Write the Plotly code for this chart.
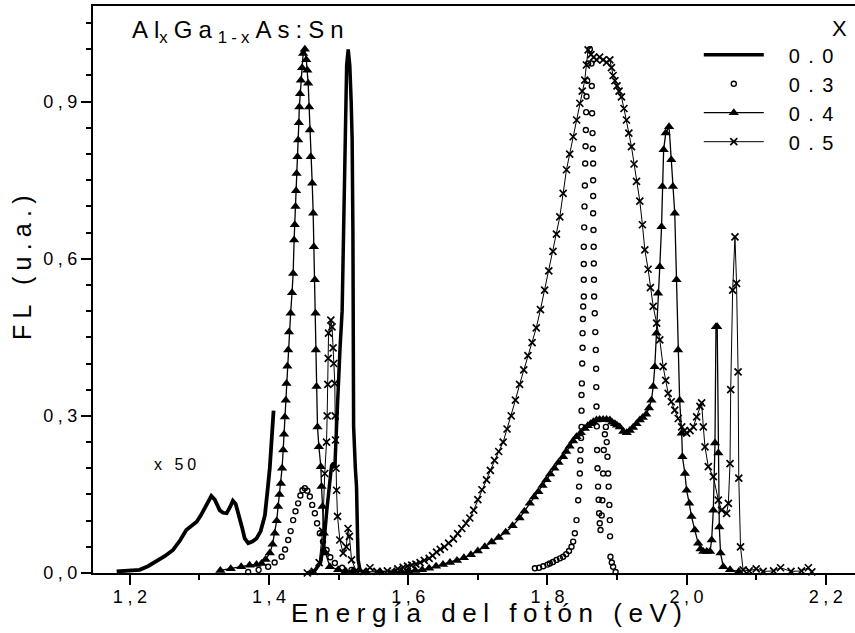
import plotly.graph_objects as go

# ---------------- data ----------------
# x = 0.0 : main near-band-edge peak
e_00 = [1.455, 1.466, 1.474, 1.479, 1.483, 1.487, 1.4898, 1.4925, 1.4945, 1.497, 1.499, 1.502,
        1.505, 1.5075, 1.5095, 1.5115, 1.5137, 1.516, 1.518, 1.5194, 1.5205, 1.521, 1.5215,
        1.524, 1.5257, 1.527, 1.528, 1.531]
fl_00 = [0.0, 0.005, 0.02, 0.06, 0.12, 0.17, 0.205, 0.21, 0.2, 0.28, 0.36, 0.43,
         0.5, 0.7, 0.85, 0.97, 1.0, 0.97, 0.9, 0.827, 0.65, 0.5, 0.28,
         0.2, 0.165, 0.08, 0.025, 0.003]

# x = 0.0 : low-energy band, magnified x 50
e_00_x50 = [1.181, 1.2, 1.214, 1.226, 1.238, 1.25, 1.262, 1.272, 1.281, 1.289, 1.296, 1.302, 1.308,
            1.313, 1.317, 1.322, 1.326, 1.329, 1.334, 1.339, 1.344, 1.348, 1.352, 1.356, 1.361,
            1.365, 1.37, 1.376, 1.382, 1.388, 1.394, 1.398, 1.401, 1.404, 1.4065]
fl_00_x50 = [0.003, 0.004, 0.006, 0.013, 0.022, 0.032, 0.044, 0.062, 0.082, 0.09, 0.098, 0.11, 0.124,
             0.137, 0.147, 0.14, 0.128, 0.12, 0.115, 0.114, 0.126, 0.138, 0.132, 0.114, 0.088,
             0.066, 0.057, 0.06, 0.066, 0.08, 0.11, 0.16, 0.2, 0.26, 0.31]

# x = 0.3 (open circles)
e_03 = [1.370, 1.385, 1.3987, 1.408, 1.418, 1.423, 1.4275, 1.431, 1.4346, 1.438, 1.4418, 1.445,
        1.448, 1.4514, 1.455, 1.4586, 1.462, 1.4658, 1.469, 1.473, 1.4775, 1.4826, 1.488,
        1.4945, 1.505, 1.5185,
        1.782, 1.788, 1.794, 1.8, 1.8034, 1.808, 1.813, 1.818, 1.8226, 1.827, 1.831, 1.8346,
        1.837, 1.8394, 1.8418, 1.8442, 1.8455, 1.8466, 1.8472, 1.8476, 1.8483, 1.849, 1.849,
        1.849, 1.8495, 1.85, 1.8505, 1.8505, 1.851, 1.8514, 1.8523, 1.8523, 1.8523, 1.8523,
        1.8528, 1.8533, 1.8538, 1.8543, 1.8548, 1.8552, 1.8557, 1.8562, 1.8572, 1.8585, 1.861,
        1.8633, 1.8638, 1.8642, 1.8648, 1.8652, 1.8657, 1.8657, 1.8657, 1.8657, 1.8662, 1.8665,
        1.8667, 1.8669, 1.8671, 1.868, 1.8688, 1.8695, 1.87, 1.8702, 1.8705, 1.871, 1.8714,
        1.872, 1.8728, 1.8736, 1.8743, 1.8752, 1.8763, 1.878, 1.879, 1.88, 1.881, 1.8825,
        1.884, 1.8852, 1.8863, 1.8872, 1.888, 1.889, 1.8897, 1.89, 1.8906, 1.8925, 1.8944, 1.898]
fl_03 = [0.002, 0.006, 0.012, 0.02, 0.031, 0.045, 0.063, 0.08, 0.101, 0.118, 0.133, 0.148,
         0.158, 0.162, 0.157, 0.146, 0.13, 0.114, 0.095, 0.076, 0.06, 0.044, 0.03,
         0.019, 0.01, 0.006,
         0.009, 0.01, 0.013, 0.016, 0.018, 0.021, 0.025, 0.028, 0.031, 0.036, 0.042, 0.05,
         0.06, 0.076, 0.101, 0.139, 0.165, 0.19, 0.215, 0.235, 0.258, 0.279, 0.31,
         0.34, 0.362, 0.4, 0.43, 0.458, 0.485, 0.509, 0.528, 0.56, 0.59, 0.623,
         0.66, 0.7, 0.74, 0.782, 0.815, 0.846, 0.88, 0.91, 0.94, 0.973, 1.0,
         0.973, 0.93, 0.878, 0.84, 0.81, 0.782, 0.75, 0.72, 0.687, 0.655, 0.623,
         0.591, 0.56, 0.528, 0.496, 0.46, 0.426, 0.39, 0.355, 0.318, 0.28, 0.235,
         0.2, 0.165, 0.14, 0.114, 0.095, 0.082, 0.11, 0.139, 0.19, 0.235, 0.265,
         0.279, 0.25, 0.222, 0.19, 0.165, 0.13, 0.101, 0.07, 0.031, 0.02, 0.012, 0.002]

# x = 0.4 (filled triangles)
e_04 = [1.33, 1.345, 1.36, 1.372, 1.382, 1.3892, 1.395, 1.4011, 1.405, 1.4083, 1.411, 1.413,
        1.415, 1.417, 1.4187, 1.4203, 1.4215, 1.4227, 1.424, 1.425, 1.4263, 1.4275, 1.4287,
        1.431, 1.433, 1.4346, 1.436, 1.437, 1.438, 1.4388, 1.4395, 1.4408, 1.4418, 1.4428,
        1.4435, 1.4445, 1.4457, 1.4475, 1.449, 1.4514, 1.4535, 1.455, 1.4562, 1.4576, 1.4586,
        1.46, 1.462, 1.4634, 1.4644, 1.4658, 1.4668, 1.4672, 1.4682, 1.4696, 1.4716, 1.4744,
        1.4754, 1.4768, 1.4787, 1.4812, 1.4874, 1.4993, 1.51, 1.52, 1.54, 1.56,
        1.58, 1.59, 1.6, 1.61, 1.62, 1.63, 1.64, 1.65, 1.66, 1.67, 1.68, 1.69, 1.70, 1.71,
        1.72, 1.73, 1.74, 1.75, 1.76, 1.767, 1.7747, 1.781, 1.787, 1.793, 1.7986, 1.804,
        1.81, 1.816, 1.8226, 1.827, 1.832, 1.837, 1.8418, 1.848, 1.8537, 1.858, 1.862, 1.866,
        1.8705, 1.875, 1.88, 1.885, 1.8897, 1.893, 1.897, 1.9, 1.904, 1.909, 1.914, 1.9184,
        1.923, 1.928, 1.9328, 1.937, 1.942, 1.946, 1.9495, 1.952, 1.9543, 1.9567, 1.959,
        1.9615, 1.964, 1.9652, 1.967, 1.97, 1.9748, 1.978, 1.9803, 1.983, 1.9855, 1.9878,
        1.99, 1.993, 1.994, 1.9976, 2.0, 2.0038, 2.007, 2.0118, 2.0166, 2.02, 2.024, 2.029,
        2.0336, 2.036, 2.0384, 2.0408, 2.0422, 2.044, 2.0456, 2.047, 2.0488, 2.0527, 2.0624,
        2.075]
fl_04 = [0.005, 0.008, 0.012, 0.015, 0.016, 0.018, 0.026, 0.038, 0.055, 0.076, 0.1, 0.127,
         0.15, 0.171, 0.2, 0.235, 0.265, 0.298, 0.33, 0.362, 0.395, 0.426, 0.46,
         0.496, 0.535, 0.572, 0.636, 0.665, 0.7, 0.73, 0.763, 0.795, 0.827, 0.86,
         0.89, 0.915, 0.941, 0.965, 0.992, 1.0, 0.98, 0.96, 0.935, 0.89, 0.846,
         0.795, 0.744, 0.687, 0.623, 0.56, 0.496, 0.426, 0.356, 0.279, 0.241, 0.203,
         0.165, 0.127, 0.076, 0.038, 0.012, 0.006, 0.004, 0.003, 0.002, 0.002,
         0.003, 0.003, 0.004, 0.005, 0.006, 0.009, 0.013, 0.016, 0.02, 0.024, 0.029, 0.035, 0.042, 0.05,
         0.059, 0.068, 0.078, 0.09, 0.105, 0.118, 0.133, 0.145, 0.155, 0.167, 0.178, 0.189,
         0.2, 0.211, 0.222, 0.232, 0.242, 0.252, 0.26, 0.268, 0.276, 0.281, 0.285, 0.289,
         0.292, 0.293, 0.293, 0.293, 0.292, 0.288, 0.285, 0.282, 0.279, 0.27, 0.268, 0.272,
         0.278, 0.285, 0.292, 0.297, 0.303, 0.315, 0.33, 0.356, 0.394, 0.458, 0.534,
         0.585, 0.661, 0.738, 0.808, 0.84, 0.852, 0.789, 0.738, 0.687, 0.56, 0.426,
         0.33, 0.267, 0.222, 0.19, 0.158, 0.133, 0.108, 0.082, 0.057, 0.046, 0.041, 0.041,
         0.041, 0.063, 0.12, 0.248, 0.47, 0.47, 0.229, 0.088, 0.038, 0.012, 0.006,
         0.003]

# x = 0.5 (crosses)
e_05 = [1.455, 1.465, 1.472, 1.477, 1.48, 1.4826, 1.4835, 1.4845, 1.485, 1.4855, 1.4888, 1.4905,
        1.492, 1.493, 1.4945, 1.495, 1.4955, 1.4962, 1.497, 1.4984, 1.5017, 1.5065, 1.511,
        1.5135, 1.5155, 1.5185, 1.525, 1.535, 1.545, 1.555, 1.57, 1.585,
        1.5927, 1.599, 1.605, 1.611, 1.617, 1.623, 1.63, 1.635, 1.6407, 1.646, 1.652, 1.658,
        1.665, 1.671, 1.677, 1.683, 1.6885, 1.694, 1.70, 1.706, 1.7125, 1.718, 1.724, 1.73,
        1.7364, 1.742, 1.748, 1.754, 1.76, 1.766, 1.772, 1.778, 1.784, 1.79, 1.796, 1.802,
        1.808, 1.813, 1.8178, 1.8226, 1.8274, 1.832, 1.837, 1.842, 1.8466, 1.85, 1.8537,
        1.856, 1.8585, 1.8625, 1.8665, 1.8706, 1.875, 1.88, 1.885, 1.8897, 1.892, 1.8944,
        1.897, 1.9, 1.903, 1.9064, 1.91, 1.9136, 1.917, 1.9208, 1.9245, 1.928, 1.9328,
        1.9365, 1.94, 1.9447, 1.948, 1.952, 1.957, 1.9615, 1.9663, 1.97, 1.9735, 1.978,
        1.983, 1.988, 1.993, 1.997, 2.0, 2.005, 2.0096, 2.0145, 2.0192, 2.0216, 2.024,
        2.0264, 2.0312, 2.0384, 2.0456, 2.0503, 2.0575, 2.06, 2.0624, 2.0634, 2.0662, 2.0695,
        2.0718, 2.074, 2.075, 2.0775, 2.0812, 2.09, 2.1, 2.11, 2.125, 2.135, 2.15, 2.165,
        2.175, 2.18]
fl_05 = [0.0, 0.003, 0.02, 0.08, 0.19, 0.25, 0.3, 0.36, 0.41, 0.458, 0.483, 0.47,
         0.43, 0.4, 0.362, 0.3, 0.254, 0.2, 0.158, 0.108, 0.063, 0.038, 0.05,
         0.085, 0.07, 0.025, 0.005, 0.003, 0.01, 0.003, 0.004, 0.008,
         0.011, 0.013, 0.015, 0.017, 0.02, 0.024, 0.028, 0.033, 0.04, 0.045, 0.05, 0.057,
         0.065, 0.075, 0.085, 0.095, 0.105, 0.12, 0.14, 0.159, 0.178, 0.196, 0.215, 0.232,
         0.25, 0.275, 0.3, 0.33, 0.36, 0.388, 0.415, 0.44, 0.468, 0.503, 0.54, 0.577,
         0.614, 0.647, 0.68, 0.725, 0.77, 0.8, 0.833, 0.865, 0.897, 0.92, 0.941,
         0.97, 0.999, 0.99, 0.985, 0.98, 0.985, 0.98, 0.975, 0.98, 0.965, 0.95,
         0.94, 0.93, 0.92, 0.909, 0.887, 0.865, 0.84, 0.814, 0.781, 0.748, 0.71,
         0.665, 0.617, 0.58, 0.545, 0.509, 0.477, 0.445, 0.394, 0.368, 0.343, 0.327,
         0.311, 0.295, 0.279, 0.272, 0.267, 0.272, 0.279, 0.298, 0.318, 0.325, 0.279,
         0.241, 0.203, 0.184, 0.139, 0.12, 0.114, 0.133, 0.209, 0.35, 0.54, 0.642,
         0.553, 0.384, 0.181, 0.05, 0.006, 0.004, 0.008, 0.003, 0.004, 0.01, 0.003, 0.004,
         0.01, 0.002]

series_names = ["0.0", "0.3", "0.4", "0.5"]

x_tick_vals = [1.2, 1.4, 1.6, 1.8, 2.0, 2.2]
x_tick_text = ["1,2", "1,4", "1,6", "1,8", "2,0", "2,2"]
y_tick_vals = [0.0, 0.3, 0.6, 0.9]
y_tick_text = ["0,0", "0,3", "0,6", "0,9"]

# ---------------- helpers ----------------
FONT = "Liberation Sans, Arial, sans-serif"
SP4 = "\u2005"   # four-per-em space, emulates the wide letter spacing


def spaced(s, gap=SP4):
    return gap.join(s)


def legend_name(s):
    return "\u2002\u2002" + spaced(s, "\u2005\u2006")


fig = go.Figure()

fig.add_trace(go.Scatter(
    x=e_00, y=fl_00, mode="lines", name=legend_name(series_names[0]),
    line=dict(color="black", width=3.5), legendgroup="a", cliponaxis=False))
fig.add_trace(go.Scatter(
    x=e_00_x50, y=fl_00_x50, mode="lines", showlegend=False,
    line=dict(color="black", width=3.8), legendgroup="a", cliponaxis=False))
fig.add_trace(go.Scatter(
    x=e_03, y=fl_03, mode="markers", name=legend_name(series_names[1]),
    marker=dict(symbol="circle-open", size=5, color="black", line=dict(width=1.4, color="black")),
    legendgroup="b", cliponaxis=False))
fig.add_trace(go.Scatter(
    x=e_04, y=fl_04, mode="lines+markers", name=legend_name(series_names[2]),
    line=dict(color="black", width=1.3),
    marker=dict(symbol="triangle-up", size=9, color="black"),
    legendgroup="c", cliponaxis=False))
fig.add_trace(go.Scatter(
    x=e_05, y=fl_05, mode="lines+markers", name=legend_name(series_names[3]),
    line=dict(color="black", width=1.0),
    marker=dict(symbol="x-thin", size=7, color="black", line=dict(width=1.7, color="black")),
    legendgroup="d", cliponaxis=False))

axis_common = dict(
    showgrid=False, zeroline=False, showline=True, linecolor="black", linewidth=2,
    ticks="outside", ticklen=10, tickwidth=2, tickcolor="black",
    tickfont=dict(family=FONT, size=18, color="black"),
)

fig.update_xaxes(
    range=[1.147, 2.242], mirror=True,
    tickvals=x_tick_vals, ticktext=[spaced(t) for t in x_tick_text],
    minor=dict(dtick=0.1, tick0=1.2, ticks="outside", ticklen=5, tickwidth=2, tickcolor="black"),
    ticklabelstandoff=-4,
    **axis_common)
fig.update_yaxes(
    range=[0, 1.0827], mirror=False,
    tickvals=y_tick_vals, ticktext=[spaced(t) for t in y_tick_text],
    minor=dict(dtick=0.05, tick0=0, ticks="outside", ticklen=5, tickwidth=2, tickcolor="black"),
    **axis_common)

annotations = [
    dict(text=spaced("Energía del fotón (eV)"), x=0.516, y=-0.0705, xref="paper", yref="paper",
         showarrow=False, xanchor="center", yanchor="middle",
         font=dict(family=FONT, size=26, color="black")),
    dict(text=spaced("FL (u.a.)"), x=-0.0932, y=0.538, xref="paper", yref="paper",
         textangle=-90, showarrow=False, xanchor="center", yanchor="middle",
         font=dict(family=FONT, size=25, color="black")),
    dict(text="A" + SP4 + "l<sub>x</sub>" + SP4 + "G" + SP4 + "a" + SP4 + "<sub>" + spaced("1-x") + "</sub>"
              + SP4 + spaced("As:Sn"),
         x=0.0486, y=0.955, xref="paper", yref="paper", showarrow=False,
         xanchor="left", yanchor="middle", font=dict(family=FONT, size=24, color="black")),
    dict(text=spaced("x 50"), x=0.1076, y=0.1905, xref="paper", yref="paper", showarrow=False,
         xanchor="center", yanchor="middle", font=dict(family=FONT, size=16, color="black")),
    dict(text="X", x=0.980, y=0.961, xref="paper", yref="paper", showarrow=False,
         xanchor="center", yanchor="middle", font=dict(family=FONT, size=22, color="black")),
]

fig.update_layout(
    width=855, height=633,
    margin=dict(l=93, r=0, t=6, b=60),
    paper_bgcolor="white", plot_bgcolor="white",
    font=dict(family=FONT, color="black"),
    annotations=annotations,
    legend=dict(x=0.795, y=0.9485, xanchor="left", yanchor="top",
                font=dict(family=FONT, size=20, color="black"),
                itemwidth=60, traceorder="grouped", tracegroupgap=0,
                bgcolor="rgba(0,0,0,0)"),
)

fig.write_html("out.html", config={"displayModeBar": False},
               post_script="document.body.style.margin='0';document.body.style.overflow='hidden';")
